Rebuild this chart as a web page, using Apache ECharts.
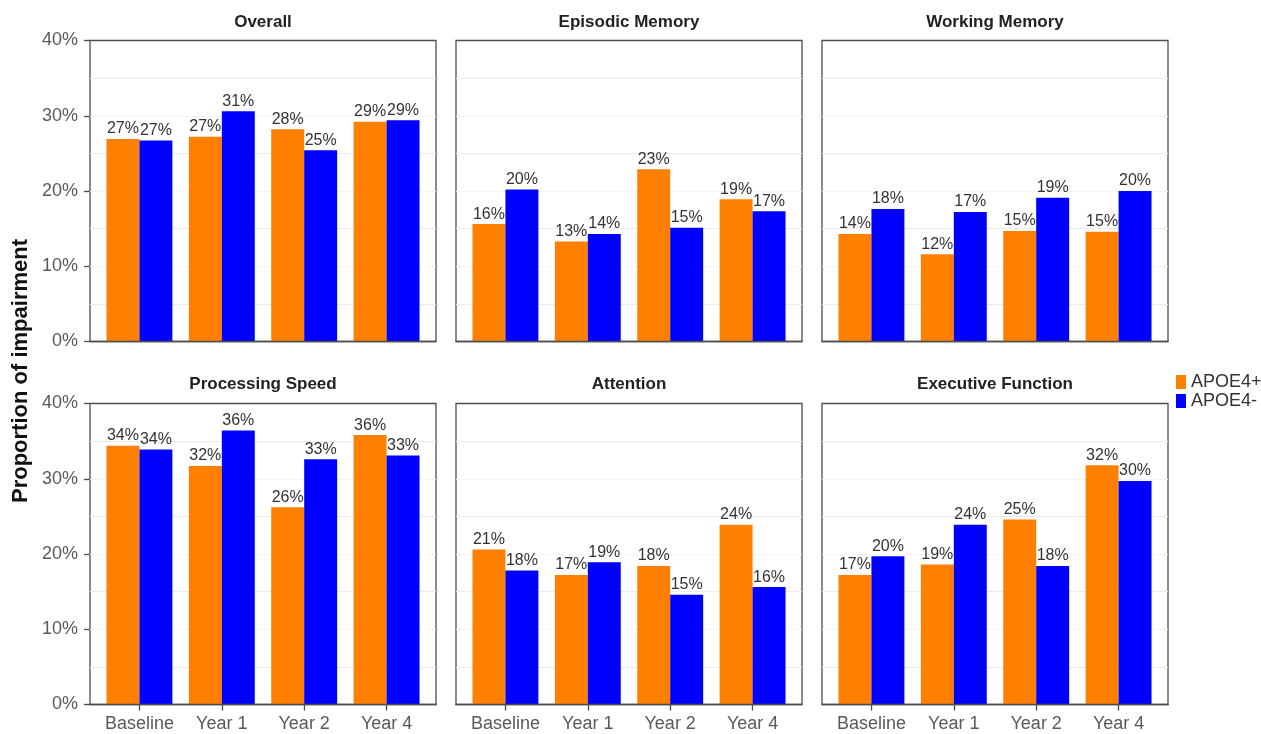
<!DOCTYPE html>
<html>
<head>
<meta charset="utf-8">
<script src="https://cdn.jsdelivr.net/npm/echarts@6/dist/echarts.min.js"></script>
<style>
  html, body { margin: 0; padding: 0; background: #fff; }
  #chart { width: 1261px; height: 734px; }
</style>
</head>
<body>
<div id="chart"></div>
<script>
// time points on x axis
var visits = ['Baseline', 'Year 1', 'Year 2', 'Year 4'];
var groups = ['APOE4+', 'APOE4-'];
var panelTitles = ['Overall', 'Episodic Memory', 'Working Memory', 'Processing Speed', 'Attention', 'Executive Function'];

// proportion of impairment (%)
var overallPos = [26.9, 27.2, 28.2, 29.2];
var overallNeg = [26.7, 30.6, 25.4, 29.4];
var episodicPos = [15.6, 13.3, 22.9, 18.9];
var episodicNeg = [20.2, 14.3, 15.1, 17.3];
var workingPos = [14.3, 11.6, 14.7, 14.6];
var workingNeg = [17.6, 17.2, 19.1, 20.0];
var speedPos = [34.4, 31.7, 26.2, 35.8];
var speedNeg = [33.9, 36.4, 32.6, 33.1];
var attentionPos = [20.6, 17.2, 18.4, 23.9];
var attentionNeg = [17.8, 18.9, 14.6, 15.6];
var execPos = [17.2, 18.6, 24.6, 31.8];
var execNeg = [19.7, 23.9, 18.4, 29.7];

var panelData = [
  [overallPos, overallNeg],
  [episodicPos, episodicNeg],
  [workingPos, workingNeg],
  [speedPos, speedNeg],
  [attentionPos, attentionNeg],
  [execPos, execNeg]
];

var colors = ['#ff7f00', '#0000ff'];
var font = 'Liberation Sans, Arial, sans-serif';

// panel boxes
var colLeft = [90, 456, 822];
var rowTop = [40.5, 403.5];
var panelW = 346;
var panelH = 301;
var inset = panelW / 4.2 * 0.1; // ggplot style discrete expansion

function buildOption() {
  var grids = [], xAxes = [], yAxes = [], series = [], titles = [];

  for (var p = 0; p < 6; p++) {
    var col = p % 3, row = Math.floor(p / 3);
    var px = colLeft[col], py = rowTop[row];
    var ga = p * 2, gb = p * 2 + 1;

    // frame + gridlines grid
    grids.push({
      left: px, top: py, width: panelW, height: panelH,
      show: true, borderColor: '#4d4d4d', borderWidth: 1.3
    });
    // bar grid, narrower so categories sit like ggplot
    grids.push({
      left: px + inset, top: py, width: panelW - 2 * inset, height: panelH
    });

    // frame bottom line drawn above the bars
    xAxes.push({
      gridIndex: ga, type: 'category', data: visits, z: 5,
      axisLine: { show: true, lineStyle: { color: '#4d4d4d', width: 1.3 } },
      axisTick: { show: false }, axisLabel: { show: false }
    });
    xAxes.push({
      gridIndex: gb, type: 'category', data: visits,
      axisLine: { show: false },
      axisTick: { show: row === 1, alignWithLabel: true, length: 6, lineStyle: { color: '#4d4d4d', width: 1.3 } },
      axisLabel: { show: row === 1, interval: 0, fontSize: 18, color: '#5a5a5a', fontFamily: font, margin: 11 }
    });

    // 3 y axes per panel: gridlines (every 5), labels/ticks (every 10), bars
    yAxes.push({
      gridIndex: ga, type: 'value', min: 0, max: 40, interval: 5,
      axisLine: { show: false }, axisTick: { show: false }, axisLabel: { show: false },
      splitLine: {
        show: true, showMinLine: false, showMaxLine: false,
        lineStyle: { color: ['#ebebeb', '#f4f4f4'], width: 1.2 }
      }
    });
    yAxes.push({
      gridIndex: ga, type: 'value', min: 0, max: 40, interval: 10, position: 'left',
      axisLine: { show: false },
      axisTick: { show: col === 0, length: 6, lineStyle: { color: '#4d4d4d', width: 1.3 } },
      axisLabel: {
        show: col === 0, formatter: '{value}%', fontSize: 18, color: '#5a5a5a',
        fontFamily: font, margin: 12
      },
      splitLine: { show: false }
    });
    yAxes.push({ gridIndex: gb, type: 'value', min: 0, max: 40, show: false });

    for (var g = 0; g < 2; g++) {
      series.push({
        name: groups[g], type: 'bar',
        xAxisIndex: gb, yAxisIndex: p * 3 + 2,
        data: panelData[p][g],
        barWidth: '40%', barGap: '0%',
        itemStyle: { color: colors[g] },
        z: 2,
        label: {
          show: true, position: 'top', distance: 2,
          formatter: function (d) { return Math.round(d.value) + '%'; },
          fontSize: 16, color: '#333', fontFamily: font
        }
      });
    }

    titles.push({
      text: panelTitles[p],
      left: px + panelW / 2, top: row === 0 ? 14 : 376,
      textAlign: 'center', padding: 0,
      textStyle: { fontSize: 17, fontWeight: 'bold', color: '#222', fontFamily: font }
    });
  }

  return {
    backgroundColor: '#fff',
    animation: false,
    title: titles,
    legend: {
      data: groups, orient: 'vertical', left: 1176, top: 373,
      itemWidth: 10, itemHeight: 14, itemGap: 1, icon: 'rect', padding: 0,
      textStyle: { fontSize: 18, color: '#333', fontFamily: font }
    },
    grid: grids,
    xAxis: xAxes,
    yAxis: yAxes,
    series: series,
    graphic: [{
      type: 'text', x: 21, y: 371, rotation: Math.PI / 2,
      style: {
        text: 'Proportion of impairment', fontSize: 22, fontWeight: 'bold',
        fill: '#111', fontFamily: font, align: 'center', verticalAlign: 'middle'
      }
    }]
  };
}

var chart = echarts.init(document.getElementById('chart'));
chart.setOption(buildOption());
</script>
</body>
</html>
